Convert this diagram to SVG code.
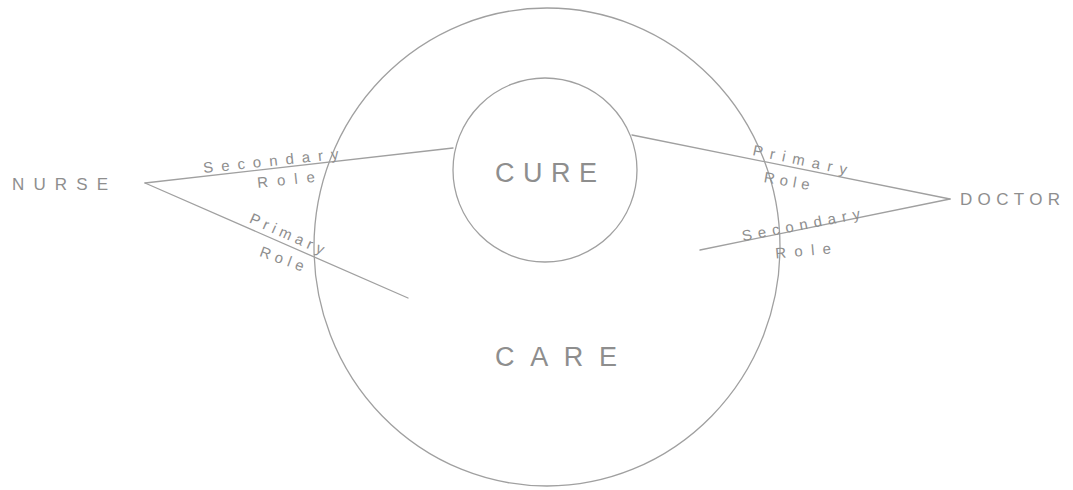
<svg xmlns="http://www.w3.org/2000/svg" width="1073" height="490" viewBox="0 0 1073 490">
<style>
.ink{fill:none;stroke:#a0a0a0;stroke-width:1.3;stroke-linecap:round}
.t{font-family:"Liberation Sans","DejaVu Sans",sans-serif;fill:#8e8e8e}
.lbl{font-size:15px}
.name{font-size:17px}
.big{font-size:27px}
</style>
<rect width="1073" height="490" fill="#ffffff"/>
<g id="node-care">
<ellipse class="ink" cx="547" cy="247" rx="233" ry="239"/>
<text class="t big" x="495" y="366" textLength="122" lengthAdjust="spacing">CARE</text>
</g>
<g id="node-cure">
<circle class="ink" cx="545" cy="170" r="92"/>
<text class="t big" x="495" y="182" textLength="102" lengthAdjust="spacing">CURE</text>
</g>
<g id="node-nurse">
<text class="t name" x="12" y="190" textLength="96" lengthAdjust="spacing">NURSE</text>
</g>
<g id="node-doctor">
<text class="t name" x="960" y="205" textLength="100" lengthAdjust="spacing">DOCTOR</text>
</g>
<g id="connectors">
<line class="ink" x1="145" y1="183" x2="453" y2="148"/>
<line class="ink" x1="145" y1="183" x2="408" y2="298"/>
<line class="ink" x1="632" y1="135" x2="950" y2="199"/>
<line class="ink" x1="950" y1="199" x2="700" y2="250"/>
<g transform="rotate(-6 271 163)"><text class="t lbl" x="203" y="166" textLength="136" lengthAdjust="spacing">Secondary</text></g>
<g transform="rotate(-6 285 180)"><text class="t lbl" x="257" y="185" textLength="58" lengthAdjust="spacing">Role</text></g>
<g transform="rotate(24 287 234)"><text class="t lbl" x="247" y="239" textLength="80" lengthAdjust="spacing">Primary</text></g>
<g transform="rotate(20 282 259)"><text class="t lbl" x="259" y="264" textLength="46" lengthAdjust="spacing">Role</text></g>
<g transform="rotate(12 800 160)"><text class="t lbl" x="752" y="165" textLength="96" lengthAdjust="spacing">Primary</text></g>
<g transform="rotate(10 787 180)"><text class="t lbl" x="764" y="186" textLength="46" lengthAdjust="spacing">Role</text></g>
<g transform="rotate(-11 801 225)"><text class="t lbl" x="741" y="230" textLength="120" lengthAdjust="spacing">Secondary</text></g>
<g transform="rotate(-5 803 250)"><text class="t lbl" x="775" y="256" textLength="56" lengthAdjust="spacing">Role</text></g>
</g>
</svg>
